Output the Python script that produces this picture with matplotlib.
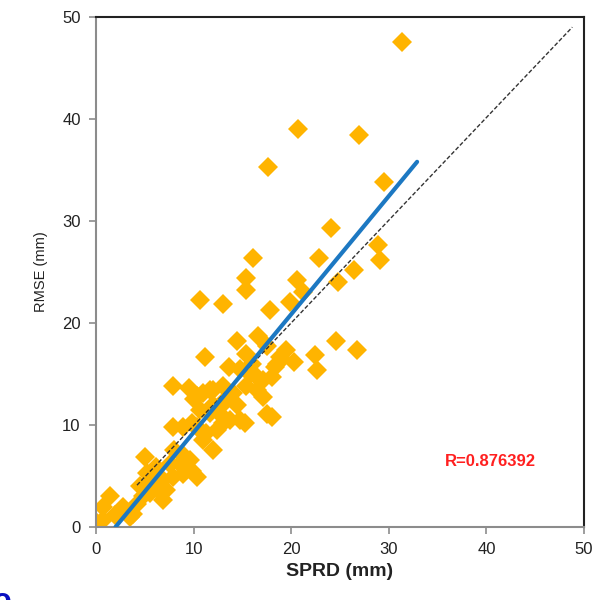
import matplotlib
matplotlib.use("Agg")
import matplotlib.pyplot as plt
import numpy as np

plt.rcParams["font.family"] = ["Liberation Sans", "DejaVu Sans"]

# scatter values (SPRD, RMSE)
sprd = [31.4, 20.7, 26.9, 17.6, 29.5, 24.1, 28.9, 29.1, 16.1, 22.8, 26.4, 24.8, 20.6, 15.4, 15.4,
        10.7, 13.0, 17.8, 19.9, 21.2, 14.4, 16.6, 11.2, 13.6, 22.4, 22.6, 24.6, 26.7, 18.9, 19.5,
        15.4, 17.5, 18.3, 16.5, 15.4, 16.5, 11.7, 13.0, 14.0, 10.3, 17.5, 18.0, 13.7, 14.8, 12.7,
        14.4, 11.3, 10.3, 12.4, 18.5, 7.9, 9.5, 10.0, 11.0, 12.0, 17.1, 18.0, 12.7, 13.0, 11.0,
        12.0, 8.9, 7.9, 9.8, 5.0, 7.6, 8.6, 9.6, 10.3, 8.9, 7.9, 6.9, 6.2, 5.5, 4.8,
        4.2, 3.8, 7.2, 6.9, 5.2, 6.2, 1.4, 2.8, 0.7, 0.7, 0.1, 1.9, 3.5, 15.3, 17.1,
        10.7, 11.7, 20.3, 14.8, 16.0, 15.8, 13.3, 12.0, 9.0, 8.0, 6.5, 5.8, 9.8, 4.5]
rmse = [47.5, 39.0, 38.4, 35.3, 33.8, 29.3, 27.6, 26.2, 26.4, 26.4, 25.2, 24.0, 24.2, 24.4, 23.2,
        22.3, 21.9, 21.3, 22.1, 23.0, 18.2, 18.7, 16.7, 15.7, 16.9, 15.4, 18.2, 17.4, 16.7, 17.4,
        17.0, 17.7, 15.7, 14.7, 13.8, 13.4, 13.4, 13.8, 13.1, 12.8, 11.1, 10.8, 10.5, 10.5, 11.8,
        12.0, 9.2, 9.8, 9.5, 16.0, 13.8, 13.6, 12.5, 13.1, 13.4, 14.4, 14.7, 11.1, 10.2, 8.5,
        7.5, 9.8, 9.8, 10.2, 6.9, 6.2, 6.2, 6.6, 4.9, 5.2, 4.9, 4.6, 4.0, 3.3, 3.0,
        2.3, 1.3, 3.6, 2.6, 5.3, 5.9, 3.0, 2.0, 2.0, 0.7, 0.4, 1.2, 1.0, 10.2, 12.7,
        11.5, 11.2, 16.2, 15.5, 16.0, 15.0, 12.5, 12.0, 7.0, 7.5, 3.5, 4.5, 5.5, 4.0]

# trend line (as drawn) and 1:1 reference line
fit_x = [2.0, 32.9]
fit_y = [0.0, 35.8]
ref_x = [4.2, 48.8]
ref_y = [4.1, 49.0]
r_text = "R=0.876392"

fig = plt.figure(figsize=(5.98, 6.0), dpi=100)
ax = fig.add_axes([0.1605, 0.1217, 0.8161, 0.85])

ax.plot(sprd, rmse, linestyle="none", marker="D", ms=10, color="#FFB400",
        markeredgewidth=0, zorder=2)
ax.plot(ref_x, ref_y, color="#333333", lw=1.0, ls=(0, (3, 1.5)), zorder=3)
ax.plot(fit_x, fit_y, color="#1C78C2", lw=3, zorder=4, solid_capstyle="round")

ax.text(40.4, 6.4, r_text, color="#FF2020", fontsize=12, fontweight="bold",
        ha="center", va="center")

ax.set_xlim(0, 50)
ax.set_ylim(0, 50)
ax.set_xticks(np.arange(0, 51, 10))
ax.set_yticks(np.arange(0, 51, 10))

for s in ["left", "bottom"]:
    ax.spines[s].set_color("#8c8c8c")
    ax.spines[s].set_linewidth(1.5)
for s in ["top", "right"]:
    ax.spines[s].set_color("#222222")
    ax.spines[s].set_linewidth(1.5)

ax.tick_params(direction="out", length=5, width=1.2, color="#8c8c8c",
               labelsize=12, labelcolor="#222222", pad=6)

ax.set_xlabel("SPRD (mm)", fontsize=14, fontweight="bold", color="#222222", labelpad=4)
ax.set_ylabel("RMSE (mm)", fontsize=10.5, color="#222222", labelpad=10)

# clipped glyph at the lower-left corner, as in the source image
fig.text(-0.012, -0.028, "o", color="#0A10C0", fontsize=22, fontweight="bold",
         ha="left", va="bottom")

fig.savefig("out.png", dpi=100)
